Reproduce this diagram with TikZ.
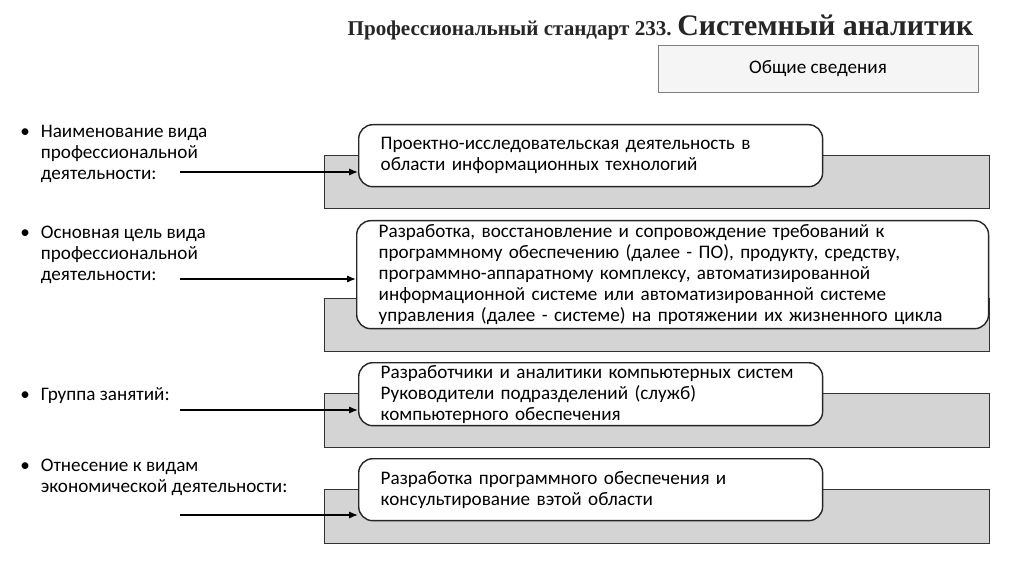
\documentclass[tikz,border=0pt]{standalone}
\usepackage{fontspec}
\setmainfont{Carlito}
\newfontfamily\titlefont{Liberation Serif}
\usetikzlibrary{arrows.meta}

\begin{document}
\begin{tikzpicture}[x=0.02cm,y=-0.02cm]
\useasboundingbox (0,0) rectangle (1024,574);
\fill[white] (0,0) rectangle (1024,574);

% title
\node[anchor=base east,font=\titlefont\bfseries\fontsize{12}{14}\selectfont,text=black!85,inner sep=0pt] (t1) at (672,36) {Профессиональный стандарт 233.};
\node[anchor=base west,font=\titlefont\bfseries\fontsize{17}{20}\selectfont,text=black!85,inner sep=0pt] (t2) at (677,36) {Системный аналитик};

\begin{scope}[every node/.style={font=\fontsize{10.9}{12}\selectfont}]
    \node[draw=black!50,fill=black!4,minimum width=6.4cm,minimum height=0.94cm] (info) at (818,68.5) {Общие сведения};
\end{scope}

% gray backs
\begin{scope}[every node/.style={draw=black!80,fill=black!17,minimum width=13.3cm,anchor=north west,inner sep=0pt}]
    \node[minimum height=1.06cm] (g1) at (324,155) {};
    \node[minimum height=1.06cm] (g2) at (324,298) {};
    \node[minimum height=1.08cm] (g3) at (324,393) {};
    \node[minimum height=1.08cm] (g4) at (324,489) {};
\end{scope}

% white boxes
\begin{scope}[every node/.style={draw=black!85,thick,fill=white,rounded corners=8pt,anchor=north west,
              align=left,inner xsep=0.44cm,inner ysep=0pt,
              font=\fontsize{10.9}{12}\selectfont}]
    \node[minimum height=1.24cm,text width=8.4cm] (b1) at (358,124) {Проектно-исследовательская деятельность в\\области информационных технологий};
    \node[minimum height=2.16cm,text width=11.76cm] (b2) at (356,220) {Разработка, восстановление и сопровождение требований к\\программному обеспечению (далее - ПО), продукту, средству,\\программно-аппаратному комплексу, автоматизированной\\информационной системе или автоматизированной системе\\управления (далее - системе) на протяжении их жизненного цикла};
    \node[minimum height=1.26cm,text width=8.4cm] (b3) at (358,362) {Разработчики и аналитики компьютерных систем\\Руководители подразделений (служб)\\компьютерного обеспечения};
    \node[minimum height=1.24cm,text width=8.4cm] (b4) at (358,458) {Разработка программного обеспечения и\\консультирование вэтой области};
\end{scope}

% left labels
\begin{scope}[every node/.style={anchor=north west,align=left,inner sep=0pt,
              font=\fontsize{10.9}{12}\selectfont}]
    \node (l1) at (20,125) {•\hspace{0.22cm}\parbox[t]{5cm}{\raggedright Наименование вида\\профессиональной\\деятельности:}};
    \node (l2) at (20,226) {•\hspace{0.22cm}\parbox[t]{5cm}{\raggedright Основная цель вида\\профессиональной\\деятельности:}};
    \node (l3) at (20,387) {•\hspace{0.22cm}Группа занятий:};
    \node (l4) at (20,459) {•\hspace{0.22cm}\parbox[t]{6cm}{\raggedright Отнесение к видам\\экономической деятельности:}};
\end{scope}

\coordinate (s1) at (180,172);
\coordinate (s2) at (180,279);
\coordinate (s3) at (180,410);
\coordinate (s4) at (180,515);
\foreach \i in {1,...,4}
    \draw[thick,-{Latex[length=5pt,width=4pt]}] (s\i) -- (s\i -| b\i.west);
\end{tikzpicture}
\end{document}
